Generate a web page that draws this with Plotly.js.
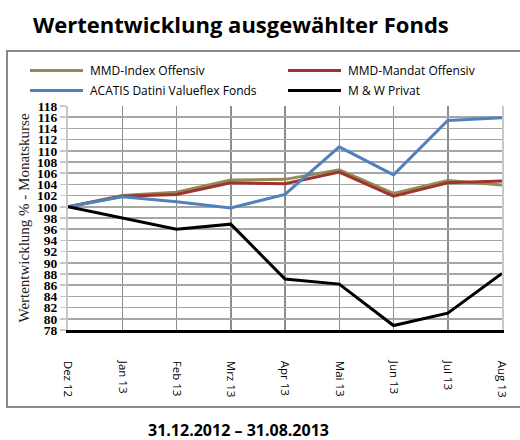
<!DOCTYPE html>
<html><head><meta charset="utf-8">
<script src="https://cdn.plot.ly/plotly-3.0.1.min.js"></script>
<style>html,body{margin:0;padding:0;background:#fff;}#chart{width:520px;height:440px;}</style>
</head><body><div id="chart"></div>
<script>
const months = ["Dez 12","Jan 13","Feb 13","Mrz 13","Apr 13","Mai 13","Jun 13","Jul 13","Aug 13"];
const mmdIndex  = [100, 102.0, 102.6, 104.8, 104.9, 106.6, 102.4, 104.7, 103.9];
const mmdMandat = [100, 101.9, 102.2, 104.3, 104.1, 106.2, 101.9, 104.3, 104.6];
const acatis    = [100, 101.8, 100.9, 99.8, 102.2, 110.7, 105.7, 115.4, 115.9];
const mwPrivat  = [100, 98.0, 96.0, 96.9, 87.1, 86.2, 78.8, 81.0, 88.1];
const seriesNames = ["MMD-Index Offensiv","MMD-Mandat Offensiv","ACATIS Datini Valueflex Fonds","M & W Privat"];
const seriesColors = ["#948A54","#9E3330","#4F81BD","#000000"];
const yTicks = [];
for (let v = 78; v <= 118; v += 2) yTicks.push(v);

const W = 520, H = 440;
const m = {l:68, r:18, t:106, b:110};
const pw = W - m.l - m.r, ph = H - m.t - m.b;
const px = x => (x - m.l) / pw;
const py = y => (H - m.b - y) / ph;

const allData = [mmdIndex, mmdMandat, acatis, mwPrivat];
const traces = allData.map((vals, i) => ({
  type: 'scatter', mode: 'lines', x: months, y: vals, name: seriesNames[i],
  line: {color: seriesColors[i], width: 3}, hoverinfo: 'skip', showlegend: false
}));

// legend layout (pixels): 2 columns x 2 rows
const legCols = [30, 288], legRows = [70.5, 90.5], legLine = 53, legGap = 5;
const shapes = [
  {type: 'line', xref: 'paper', yref: 'paper', x0: px(7), x1: px(7), y0: py(51), y1: py(407), line: {color: '#8a8a8a', width: 2}},
  {type: 'line', xref: 'paper', yref: 'paper', x0: px(6), x1: px(521), y0: py(51), y1: py(51), line: {color: '#8a8a8a', width: 2}},
  {type: 'line', xref: 'paper', yref: 'paper', x0: px(6), x1: px(521), y0: py(407), y1: py(407), line: {color: '#8a8a8a', width: 2}}
];
const annotations = [
  {xref: 'paper', yref: 'paper', x: px(31), y: py(24), xanchor: 'left', yanchor: 'middle', showarrow: false,
   text: '<b>Wertentwicklung ausgewählter Fonds</b>', font: {family: 'Open Sans, sans-serif', size: 22, color: '#000'}},
  {xref: 'paper', yref: 'paper', x: px(238), y: py(429.5), xanchor: 'center', yanchor: 'middle', showarrow: false, borderpad: 0,
   text: '<b>31.12.2012 – 31.08.2013</b>', font: {family: 'Open Sans, sans-serif', size: 16, color: '#000'}}
];
seriesNames.forEach((name, i) => {
  const cx = legCols[i % 2], cy = legRows[Math.floor(i / 2)];
  shapes.push({type: 'line', xref: 'paper', yref: 'paper', x0: px(cx), x1: px(cx + legLine), y0: py(cy), y1: py(cy),
    line: {color: seriesColors[i], width: 3}});
  annotations.push({xref: 'paper', yref: 'paper', x: px(cx + legLine + legGap), y: py(cy), xanchor: 'left', yanchor: 'middle',
    showarrow: false, text: name, font: {family: 'Open Sans, sans-serif', size: 12, color: '#000'}});
});

const layout = {
  width: W, height: H, margin: m,
  paper_bgcolor: '#fff', plot_bgcolor: '#fff',
  showlegend: false,
  xaxis: {type: 'category', range: [0, 8], tickangle: 90, showgrid: true, gridcolor: '#8c8c8c', gridwidth: 1.5,
    showline: true, linecolor: '#000', linewidth: 2.5, ticks: '', ticklabelstandoff: 26,
    tickfont: {family: 'Open Sans, sans-serif', size: 11.5, color: '#000'}, fixedrange: true},
  yaxis: {range: [78, 118], tickvals: yTicks, ticktext: yTicks.map(String), showgrid: true, gridcolor: '#a6a6a6', gridwidth: 1.5,
    showline: true, linecolor: '#c8c8c8', linewidth: 2, mirror: true, ticks: 'outside', ticklen: 6, tickcolor: '#c8c8c8', tickwidth: 1.5,
    tickfont: {family: 'Liberation Serif, serif', size: 13.5, color: '#000', weight: 'bold'},
    title: {text: 'Wertentwicklung % - Monatskurse', font: {family: 'Liberation Serif, serif', size: 15, color: '#222'}, standoff: 4},
    fixedrange: true},
  shapes: shapes,
  annotations: annotations
};
Plotly.newPlot('chart', traces, layout, {displayModeBar: false, staticPlot: true});
</script></body></html>
